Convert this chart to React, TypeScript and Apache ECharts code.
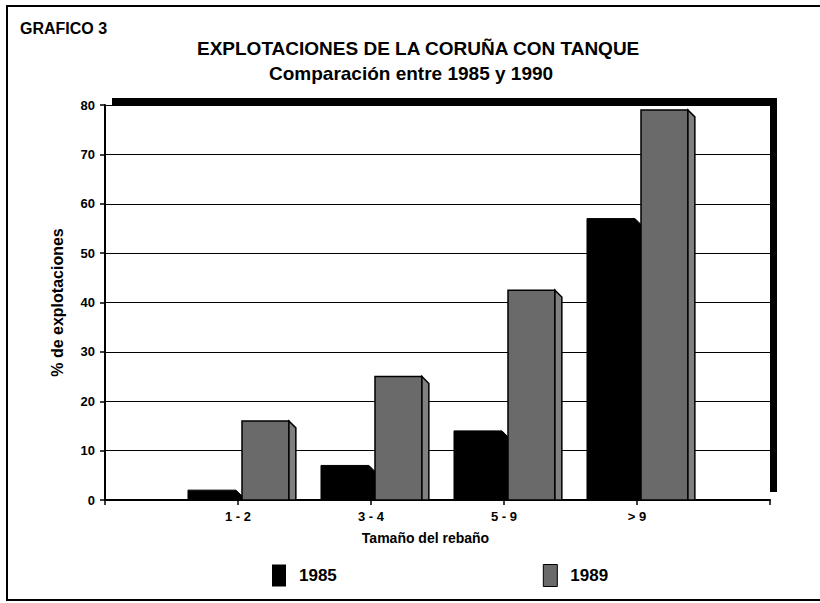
import React, { useEffect, useRef } from "react";
import * as echarts from "echarts";

const categories = ["1 - 2", "3 - 4", "5 - 9", "> 9"];
const values1985 = [2, 7, 14, 57];
const values1989 = [16, 25, 42.5, 79];
const seriesNames = ["1985", "1989"];
const yTicks = { min: 0, max: 80, interval: 10 };

const FONT = "'Liberation Sans', Arial, Helvetica, sans-serif";

export default function App() {
  const ref = useRef<HTMLDivElement>(null);
  useEffect(() => {
    if (!ref.current) return;
    const chart = echarts.init(ref.current, null, { renderer: "svg" });
    const xData = ["", ...categories, ""];
    const d85 = values1985.map((v, i) => [i + 1, v]);
    const d89 = values1989.map((v, i) => [i + 1, v]);

    const render85 = (params: any, api: any) => {
      const ci = api.value(0);
      const v = api.value(1);
      const top = api.coord([ci, v]);
      const base = api.coord([ci, 0]);
      const band = api.size([1, 0])[0];
      const cx = top[0];
      const x0 = cx - 0.376 * band;
      const x1 = cx - 0.015 * band;
      const d = 0.045 * band;
      return {
        type: "polygon",
        shape: {
          points: [
            [x0, top[1]],
            [x1, top[1]],
            [x1 + d, top[1] + d],
            [x1 + d, base[1]],
            [x0, base[1]],
          ],
        },
        style: { fill: "#000", stroke: "#000", lineWidth: 1 },
      };
    };
    const render89 = (params: any, api: any) => {
      const ci = api.value(0);
      const v = api.value(1);
      const top = api.coord([ci, v]);
      const base = api.coord([ci, 0]);
      const band = api.size([1, 0])[0];
      const cx = top[0];
      const x0 = cx + 0.03 * band;
      const x1 = cx + 0.383 * band;
      const d = 0.052 * band;
      return {
        type: "group",
        children: [
          {
            type: "rect",
            shape: { x: x0, y: top[1], width: x1 - x0, height: base[1] - top[1] },
            style: { fill: "#6a6a6a", stroke: "#000", lineWidth: 1.5 },
          },
          {
            type: "polygon",
            shape: {
              points: [
                [x1, top[1]],
                [x1 + d, top[1] + d],
                [x1 + d, base[1]],
                [x1, base[1]],
              ],
            },
            style: { fill: "#808080", stroke: "#000", lineWidth: 1.5 },
          },
        ],
      };
    };

    chart.setOption({
      animation: false,
      backgroundColor: "#fff",
      textStyle: { fontFamily: FONT, color: "#000" },
      title: [
        {
          text: "GRAFICO 3",
          left: 15,
          top: 15,
          padding: 5,
          textStyle: { fontFamily: FONT, fontSize: 16, fontWeight: "bold", color: "#000" },
        },
        {
          text: "EXPLOTACIONES DE LA CORUÑA CON TANQUE",
          left: 192,
          top: 34,
          padding: 5,
          textStyle: { fontFamily: FONT, fontSize: 19, fontWeight: "bold", color: "#000" },
        },
        {
          text: "Comparación entre 1985 y 1990",
          left: 264,
          top: 59,
          padding: 5,
          textStyle: { fontFamily: FONT, fontSize: 19, fontWeight: "bold", color: "#000" },
        },
      ],
      legend: {
        left: 267,
        top: 559,
        icon: "rect",
        itemWidth: 14,
        itemHeight: 22,
        itemGap: 206,
        textStyle: {
          fontFamily: FONT,
          fontSize: 17,
          fontWeight: "bold",
          color: "#000",
          padding: [0, 0, 0, 8],
        },
        data: [
          { name: seriesNames[0], itemStyle: { color: "#000" } },
          { name: seriesNames[1], itemStyle: { color: "#6a6a6a", borderColor: "#000", borderWidth: 1 } },
        ],
      },
      graphic: [
        {
          type: "rect",
          z: -1,
          shape: { x: 7, y: 6, width: 840, height: 594 },
          style: { fill: "none", stroke: "#000", lineWidth: 2 },
        },
        {
          type: "rect",
          z: -1,
          shape: { x: 112, y: 98, width: 665, height: 7 },
          style: { fill: "#000" },
        },
        {
          type: "rect",
          z: -1,
          shape: { x: 770, y: 98, width: 7, height: 394 },
          style: { fill: "#000" },
        },
      ],
      grid: { left: 105, right: 50, top: 105, bottom: 103, containLabel: false },
      xAxis: {
        type: "category",
        data: xData,
        boundaryGap: false,
        name: "Tamaño del rebaño",
        nameLocation: "middle",
        nameGap: 31,
        nameMoveOverlap: false,
        nameTextStyle: {
          fontFamily: FONT,
          fontSize: 14,
          fontWeight: "bold",
          color: "#000",
          padding: [0, 24, 0, 0],
        },
        axisLine: { lineStyle: { color: "#000", width: 2 } },
        axisTick: { show: true, length: 5, lineStyle: { color: "#000", width: 1.5 } },
        axisLabel: { fontFamily: FONT, fontSize: 13, fontWeight: "bold", color: "#000", margin: 10 },
        splitLine: { show: false },
      },
      yAxis: {
        type: "value",
        min: yTicks.min,
        max: yTicks.max,
        interval: yTicks.interval,
        name: "% de explotaciones",
        nameLocation: "middle",
        nameGap: 40,
        nameMoveOverlap: false,
        nameTextStyle: { fontFamily: FONT, fontSize: 16, fontWeight: "bold", color: "#000" },
        axisLine: { show: true, lineStyle: { color: "#000", width: 2 } },
        axisTick: { show: true, length: 5, lineStyle: { color: "#000", width: 1.5 } },
        axisLabel: { fontFamily: FONT, fontSize: 13, fontWeight: "bold", color: "#000", margin: 10 },
        splitLine: { show: true, lineStyle: { color: "#000", width: 1 } },
      },
      series: [
        {
          name: seriesNames[0],
          type: "custom",
          renderItem: render85,
          encode: { x: 0, y: 1 },
          itemStyle: { color: "#000" },
          data: d85,
          z: 3,
        },
        {
          name: seriesNames[1],
          type: "custom",
          renderItem: render89,
          encode: { x: 0, y: 1 },
          itemStyle: { color: "#6a6a6a" },
          data: d89,
          z: 4,
        },
      ],
    });
    return () => chart.dispose();
  }, []);
  return (
    <div
      ref={ref}
      style={{ position: "fixed", left: 0, top: 0, width: 820, height: 603 }}
    />
  );
}
